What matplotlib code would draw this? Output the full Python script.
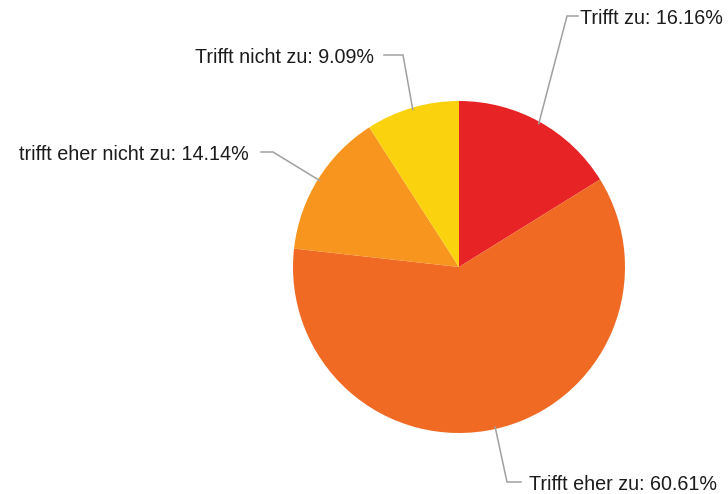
import numpy as np
import matplotlib.pyplot as plt

plt.rcParams['font.family'] = ['Liberation Sans', 'DejaVu Sans']

labels = ["Trifft zu", "Trifft eher zu", "trifft eher nicht zu", "Trifft nicht zu"]
shares = [16.16, 60.61, 14.14, 9.09]
colors = ["#e82326", "#f06a24", "#f7951f", "#fbd20e"]

# figure in pixel coordinates (y measured from top, flipped below)
W, H = 728, 494
cx, cy, r = 459, 267, 166

# elbow point, end of horizontal stub, text anchor (x, y), alignment
leaders = [
    ((567, 16), (578, 16), (580, 19), "left"),
    ((507, 482), (521, 482), (529, 484), "left"),
    ((273, 152), (261, 152), (249, 154), "right"),
    ((403, 55), (384, 55), (374, 58), "right"),
]

fig = plt.figure(figsize=(W / 100, H / 100), dpi=100)
ax = fig.add_axes([0, 0, 1, 1])

wedges, _ = ax.pie(shares, colors=colors, startangle=90, counterclock=False,
                   center=(cx, H - cy), radius=r,
                   wedgeprops=dict(linewidth=0))
# pie() sets its own limits, so fix them afterwards
ax.set_xlim(0, W)
ax.set_ylim(0, H)
ax.set_aspect("equal")
ax.axis("off")

for w, lab, val, (elbow, stub, txt, ha) in zip(wedges, labels, shares, leaders):
    ang = np.deg2rad((w.theta1 + w.theta2) / 2)
    ex = cx + (r - 2) * np.cos(ang)
    ey = H - cy + (r - 2) * np.sin(ang)
    ax.plot([ex, elbow[0], stub[0]], [ey, H - elbow[1], H - stub[1]],
            color="#a0a0a0", lw=1.1, solid_joinstyle="miter")
    ax.text(txt[0], H - txt[1], f"{lab}: {val:.2f}%", ha=ha, va="center",
            fontsize=14.2, color="#1c1c1c")

fig.savefig("out.png", dpi=100)
